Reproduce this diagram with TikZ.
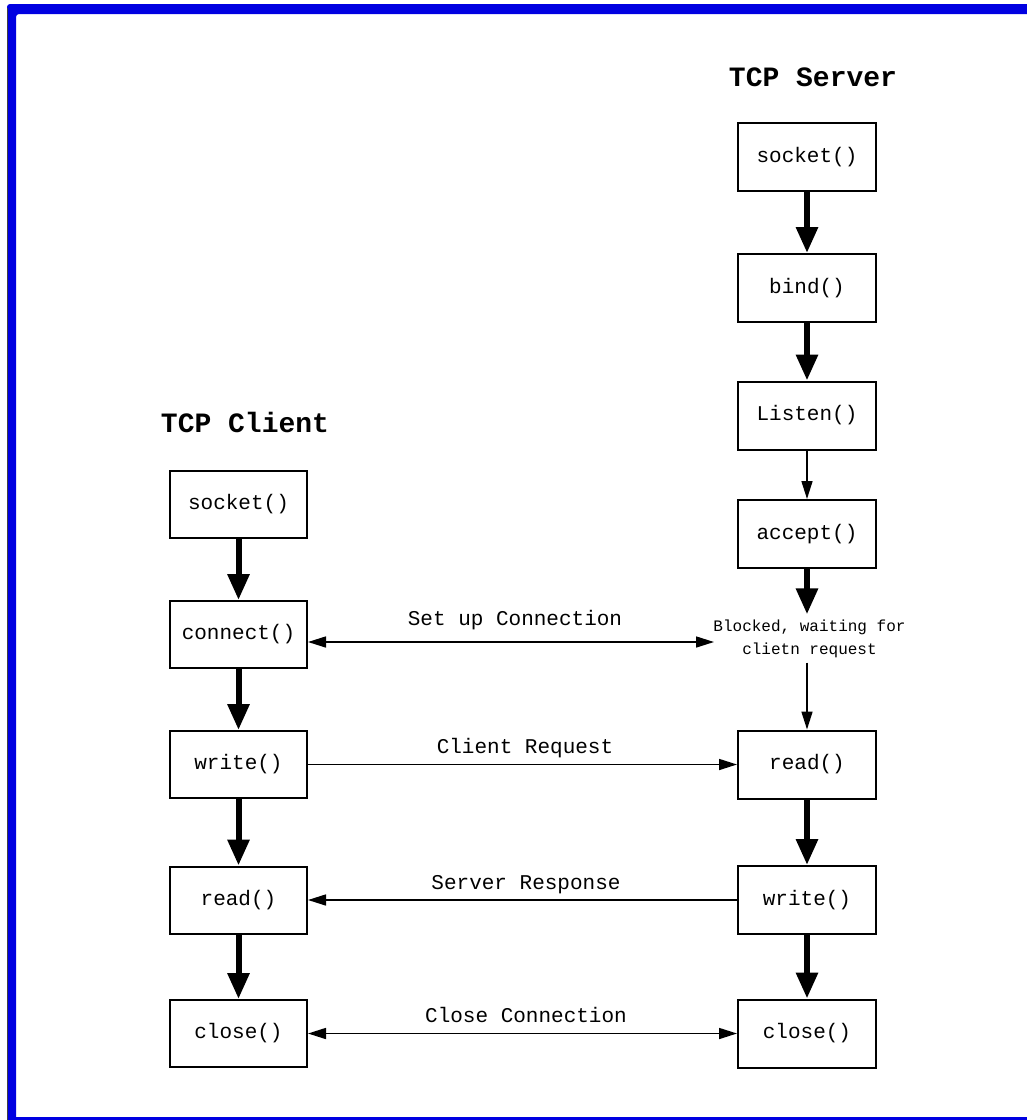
\documentclass[tikz,border=0pt]{standalone}
\usepackage{fontspec}
\setmonofont{Liberation Mono}
\usetikzlibrary{arrows.meta}
\definecolor{frameblue}{RGB}{0,0,225}
\tikzset{
  fn/.style={draw, line width=2pt, minimum width=138pt, minimum height=68pt,
    inner sep=0pt, font=\ttfamily\fontsize{21}{21}\selectfont},
  ttl/.style={font=\ttfamily\bfseries\fontsize{28}{28}\selectfont},
  lbl/.style={font=\ttfamily\fontsize{21}{21}\selectfont},
  heavy/.style={line width=6pt, -{Triangle[length=26pt,width=21pt]}},
  thin/.style={line width=1.6pt, -{Triangle[length=18pt,width=11pt]}},
  both/.style={line width=1.6pt, {Triangle[length=18pt,width=11pt]}-{Triangle[length=18pt,width=11pt]}},
}
\begin{document}
\begin{tikzpicture}[x=1pt,y=-1pt]
\useasboundingbox (0,0) rectangle (1027,1120);
% frame
\fill[white] (0,0) rectangle (1027,1120);
\fill[frameblue, rounded corners=3pt] (7,4) -- (1030,4) -- (1030,14) -- (16,14) -- (16,1125) -- (7,1125) -- cycle;
\draw[black!75, line width=1pt] (7.5,1120) -- (7.5,8);
\fill[frameblue] (16,1117) rectangle (1027,1120);

% titles
\node[ttl] (ts) at (813,77) {TCP Server};
\node[ttl] (tc) at (245,422) {TCP Client};

% server column
\node[fn] (ssock) at (807,157) {socket()};
\node[fn] (sbind) at (807,288) {bind()};
\node[fn] (slist) at (807,415.5) {Listen()};
\node[fn] (sacc)  at (807,534) {accept()};
\node[align=center, inner sep=0pt, font=\ttfamily\fontsize{16}{23}\selectfont] (blk) at (809.5,638.5) {Blocked, waiting for\\clietn request};
\node[fn] (sread) at (807,764.5) {read()};
\node[fn] (swrite) at (807,900) {write()};
\node[fn] (sclose) at (807,1033.5) {close()};

% client column
\node[fn, minimum width=137pt, minimum height=67pt] (csock) at (238.5,504) {socket()};
\node[fn, minimum width=137pt, minimum height=67pt] (cconn) at (238.5,634.5) {connect()};
\node[fn, minimum width=137pt, minimum height=67pt] (cwrite) at (238.5,764.5) {write()};
\node[fn, minimum width=137pt, minimum height=67pt] (cread) at (238.5,900) {read()};
\node[fn, minimum width=137pt, minimum height=67pt] (cclose) at (238.5,1033.5) {close()};

% server flow
\draw[heavy] (ssock) -- (sbind);
\draw[heavy] (sbind) -- (slist);
\draw[thin] (slist) -- (sacc);
\coordinate (bt) at ([yshift=5pt]sacc.south |- blk.north);
\coordinate (bb) at ([yshift=-5pt]sacc.south |- blk.south);
\draw[heavy] (sacc.south) -- (bt);
\draw[thin] (bb) -- (sread.north);
\draw[heavy] (sread) -- (swrite);
\draw[heavy] (swrite) -- (sclose);

% client flow
\draw[heavy] (csock) -- (cconn);
\draw[heavy] (cconn) -- (cwrite);
\draw[heavy] (cwrite) -- (cread);
\draw[heavy] (cread) -- (cclose);

% exchanges between client and server
\coordinate (su) at (714,642);
\draw[both] (cconn.east |- su) -- (su);
\node[lbl] (lsu) at (515,620) {Set up Connection};
\draw[thin] (cwrite.east) -- (sread.west);
\node[lbl] (lcr) at (525,748) {Client Request};
\draw[thin] (swrite.west) -- (cread.east);
\node[lbl] (lsr) at (526,885) {Server Response};
\draw[both] (cclose.east) -- (sclose.west);
\node[lbl] (lcc) at (526,1015) {Close Connection};
\end{tikzpicture}
\end{document}
